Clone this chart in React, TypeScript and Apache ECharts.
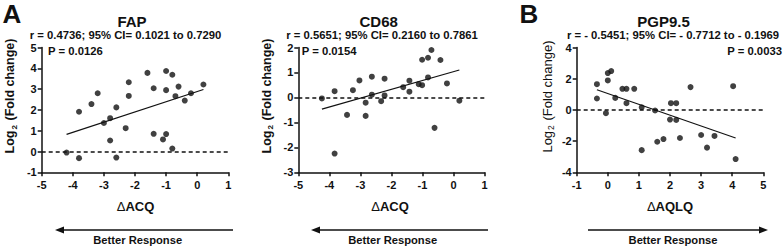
import React, { useEffect, useRef } from "react";
import * as echarts from "echarts";

// ---- data ----
const fapX = [-4.2, -3.8, -3.8, -3.4, -3.2, -3.0, -2.8, -2.8, -2.6, -2.6, -2.3, -2.2, -2.2, -1.6, -1.4, -1.4, -1.1, -1.0, -1.0, -1.0, -0.8, -0.8, -0.7, -0.6, -0.4, -0.2, 0.2];
const fapY = [-0.05, -0.32, 1.91, 2.28, 2.8, 1.37, 1.6, 0.53, 2.12, -0.29, 1.12, 3.33, 2.67, 3.78, 3.04, 0.85, 0.58, 3.87, 2.95, 0.84, 3.69, 0.14, 2.66, 3.12, 2.45, 2.8, 3.22];
const fapFit = [[-4.2, 0.82], [0.2, 2.98]];

const cd68X = [-4.24, -3.83, -3.83, -3.43, -3.24, -3.03, -2.83, -2.83, -2.63, -2.63, -2.33, -2.22, -2.22, -1.62, -1.42, -1.42, -1.12, -1.01, -1.01, -0.82, -0.71, -0.82, -0.61, -0.42, -0.21, 0.19];
const cd68Y = [-0.04, 0.25, -2.25, -0.7, 0.29, 0.68, -0.21, -0.74, 0.83, 0.11, -0.15, 0.75, 0.08, 0.41, 0.67, 0.23, 0.53, 0.49, 1.51, 1.59, 1.9, 0.8, -1.22, 1.5, 0.56, -0.13];
const cd68Fit = [[-4.24, -0.47], [0.19, 1.1]];

const pgpX = [-0.35, -0.35, -0.06, 0.0, 0.0, 0.11, 0.24, 0.47, 0.6, 0.6, 0.85, 1.09, 1.09, 1.52, 1.59, 1.79, 2.0, 2.03, 2.2, 2.2, 2.32, 2.66, 3.0, 3.19, 3.43, 4.03, 4.11];
const pgpY = [1.65, 0.73, -0.21, 1.89, 2.36, 2.49, 0.77, 1.35, 1.35, 0.43, 1.35, 0.17, -2.58, -0.04, -2.04, -1.87, -0.62, 0.43, 0.43, -0.64, -1.8, 1.46, -1.61, -2.42, -1.67, 1.52, -3.15];
const pgpFit = [[-0.35, 1.29], [4.11, -1.8]];

const panelTitles = ["FAP", "CD68", "PGP9.5"];
const statLines = [
  "r = 0.4736; 95% CI= 0.1021 to 0.7290",
  "r = 0.5651; 95% CI= 0.2160 to 0.7861",
  "r = - 0.5451; 95% CI= - 0.7712 to - 0.1969",
];
const pLines = ["P = 0.0126", "P = 0.0154", "P = 0.0033"];
const xNames = ["ACQ", "ACQ", "AQLQ"];
const xRanges = [[-5, 1, 1], [-5, 1, 1], [-1, 5, 1]];
const yRanges = [[-1, 5, 1], [-3, 2, 1], [-4, 4, 2]];
const panelLetters = ["A", "B"];
const responseLabel = "Better Response";

const FONT = "'Liberation Sans', Arial, Helvetica, sans-serif";
const INK = "#111";

const zip = (xs: number[], ys: number[]) => xs.map((x, i) => [x, ys[i]]);

export default function App() {
  const ref = useRef<HTMLDivElement>(null);

  useEffect(() => {
    if (!ref.current) return;
    const chart = echarts.init(ref.current, null, { renderer: "svg" });

    const grids = [
      { left: 41.7, top: 47.5, width: 186.6, height: 124.8 },
      { left: 298.3, top: 47.5, width: 186.2, height: 124.8 },
      { left: 576.7, top: 47.5, width: 186.6, height: 124.8 },
    ].map((g) => ({ ...g, containLabel: false, outerBoundsMode: "none" }));

    const axisBase = {
      type: "value",
      splitLine: { show: false },
      axisLine: { show: true, onZero: false, lineStyle: { color: INK, width: 1.5 } },
      axisTick: { show: true, inside: false, length: 4, lineStyle: { color: INK, width: 1.5 } },
      axisLabel: { color: INK, fontFamily: FONT, fontWeight: "bold", fontSize: 11 },
    };

    const xAxes = xRanges.map((r, i) => ({
      ...axisBase,
      gridIndex: i,
      min: r[0],
      max: r[1],
      interval: r[2],
      axisLabel: { ...axisBase.axisLabel, margin: 7 },
    }));
    const yAxes = yRanges.map((r, i) => ({
      ...axisBase,
      gridIndex: i,
      min: r[0],
      max: r[1],
      interval: r[2],
      axisLabel: { ...axisBase.axisLabel, margin: 5 },
    }));

    const scatterData = [zip(fapX, fapY), zip(cd68X, cd68Y), zip(pgpX, pgpY)];
    const fits = [fapFit, cd68Fit, pgpFit];

    const series: any[] = [];
    scatterData.forEach((d, i) => {
      series.push({
        type: "scatter",
        xAxisIndex: i,
        yAxisIndex: i,
        data: d,
        symbol: "circle",
        symbolSize: 6,
        itemStyle: { color: INK },
        z: 3,
        markLine: {
          silent: true,
          symbol: ["none", "none"],
          label: { show: false },
          lineStyle: { color: INK, width: 1.5, type: [4, 3] },
          data: [{ yAxis: 0 }],
        },
      });
      series.push({
        type: "line",
        xAxisIndex: i,
        yAxisIndex: i,
        data: fits[i],
        symbol: "none",
        lineStyle: { color: INK, width: 1.2 },
        z: 2,
      });
    });

    const txt = (x: number, y: number, text: string, size: number, weight = "bold", align = "center", extra: any = {}) => ({
      type: "text",
      x,
      y,
      ...extra,
      style: {
        text,
        fill: INK,
        fontFamily: FONT,
        fontSize: size,
        fontWeight: weight,
        align,
        verticalAlign: "middle",
        ...(extra.style || {}),
      },
    });

    const yLabel = (x: number, y: number, weight: string, size: number) => ({
      type: "text",
      x,
      y,
      rotation: Math.PI / 2,
      style: {
        text: "{a|Log}{s|2}{a| (Fold change)}",
        fill: INK,
        fontFamily: FONT,
        align: "center",
        verticalAlign: "middle",
        rich: {
          a: { fontSize: size, fontWeight: weight, fontFamily: FONT, fill: INK, lineHeight: 16, verticalAlign: "middle" },
          s: { fontSize: size * 0.65, fontWeight: weight, fontFamily: FONT, fill: INK, lineHeight: 16, verticalAlign: "bottom", padding: [0, 1, 0, 1] },
        },
      },
    });

    const xName = (x: number, y: number, name: string) => ({
      type: "text",
      x,
      y,
      style: {
        text: "{d|Δ}{b|" + name + "}",
        fill: INK,
        align: "center",
        verticalAlign: "middle",
        rich: {
          d: { fontSize: 13, fontWeight: "normal", fontFamily: FONT, fill: INK },
          b: { fontSize: 13, fontWeight: "bold", fontFamily: FONT, fill: INK },
        },
      },
    });

    const arrow = (xFrom: number, xTo: number, y: number) => {
      const dir = xTo > xFrom ? 1 : -1;
      return [
        { type: "line", shape: { x1: xFrom, y1: y, x2: xTo - dir * 6, y2: y }, style: { stroke: INK, lineWidth: 1.6 } },
        {
          type: "polygon",
          shape: { points: [[xTo, y], [xTo - dir * 9, y - 3.5], [xTo - dir * 9, y + 3.5]] },
          style: { fill: INK },
        },
      ];
    };

    const graphic: any[] = [
      txt(12, 14, panelLetters[0], 26),
      txt(529, 14, panelLetters[1], 26),
      txt(132, 21, panelTitles[0], 15),
      txt(378.7, 21, panelTitles[1], 15),
      txt(663.5, 21, panelTitles[2], 15),
      txt(125.5, 35, statLines[0], 11.3),
      txt(382, 35, statLines[1], 11.3),
      txt(673, 35, statLines[2], 11.3),
      txt(48, 50.5, pLines[0], 11.3, "bold", "left"),
      txt(301.7, 50.5, pLines[1], 11.3, "bold", "left"),
      txt(782, 50.5, pLines[2], 11.3, "bold", "right"),
      yLabel(10, 96, "bold", 12.5),
      yLabel(266.6, 96, "bold", 12.5),
      yLabel(547, 96.5, "normal", 13),
      xName(135.5, 206, xNames[0]),
      xName(390, 206, xNames[1]),
      xName(670, 206, xNames[2]),
      ...arrow(233, 55, 230),
      ...arrow(488, 311, 230),
      ...arrow(588, 768, 230),
      txt(137.7, 239.5, responseLabel, 11.2),
      txt(392.7, 239.5, responseLabel, 11.2),
      txt(673, 239.5, responseLabel, 11.2),
    ];

    chart.setOption({
      animation: false,
      backgroundColor: "#fff",
      grid: grids,
      xAxis: xAxes,
      yAxis: yAxes,
      series,
      graphic,
    } as any);

    return () => chart.dispose();
  }, []);

  return (
    <div
      ref={ref}
      style={{ position: "fixed", left: 0, top: 0, width: 784, height: 247, background: "#fff" }}
    />
  );
}
